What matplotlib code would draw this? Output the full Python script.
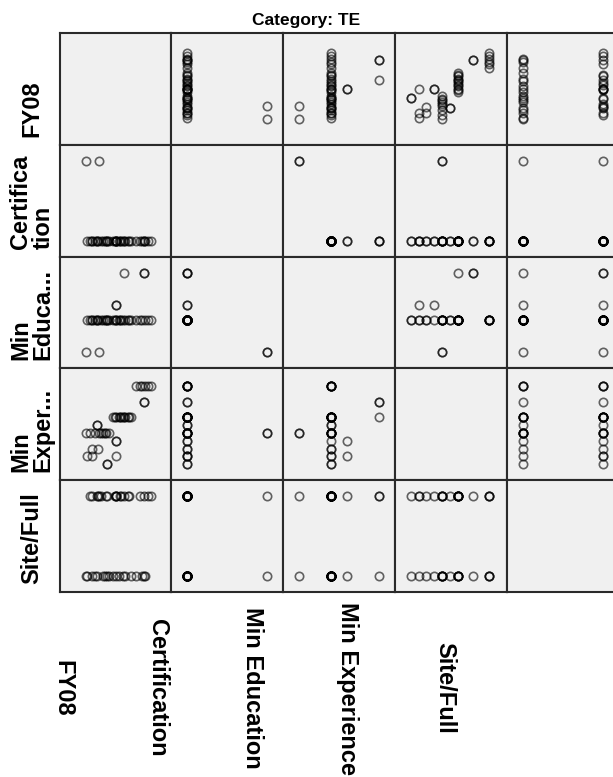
import matplotlib
matplotlib.use("Agg")
import matplotlib.pyplot as plt

plt.rcParams['font.family'] = ['Liberation Sans', 'DejaVu Sans']

# one entry per case
fy08 = [62500, 64500, 67000, 70000, 66500, 66500, 56500, 50500, 52000, 53500,
        55000, 57000, 58500, 60000, 54000, 42500, 42500, 37000, 43500, 39000,
        45500, 47000, 48500, 46500, 52000, 52000, 40000, 43000, 37500, 40000,
        52000, 47500, 47500, 51500, 56000, 59000, 41500, 44500, 65500, 68500]
certification = [0, 0, 0, 0, 0, 0, 0, 0, 0, 0,
                 0, 0, 0, 0, 0, 0, 0, 1, 1, 0,
                 0, 0, 0, 0, 0, 0, 0, 0, 0, 0,
                 0, 0, 0, 0, 0, 0, 0, 0, 0, 0]
min_education = [3, 3, 3, 3, 6, 6, 6, 3, 3, 3,
                 3, 3, 3, 3, 3, 3, 3, 1, 1, 3,
                 3, 3, 3, 3, 4, 3, 3, 3, 3, 3,
                 4, 3, 3, 3, 3, 3, 3, 3, 3, 3]
min_experience = [10, 10, 10, 10, 8, 8, 6, 6, 6, 6,
                  6, 6, 6, 6, 6, 5, 5, 4, 4, 4,
                  4, 4, 4, 4, 3, 3, 2, 2, 1, 1,
                  1, 0, 0, 6, 6, 6, 4, 4, 10, 10]
site_full = [0, 1, 0, 1, 0, 1, 1, 0, 1, 0,
             1, 0, 1, 0, 1, 0, 1, 0, 1, 1,
             0, 1, 0, 0, 0, 1, 0, 1, 0, 1,
             1, 0, 1, 1, 0, 1, 0, 1, 0, 1]

variables = [fy08, certification, min_education, min_experience, site_full]
row_labels = ['FY08', 'Certifica\ntion', 'Min\nEduca...', 'Min\nExper...', 'Site/Full']
col_labels = ['FY08', 'Certification', 'Min Education', 'Min Experience', 'Site/Full']
limits = [(24000, 79900), (-0.2, 1.2), (0, 7), (-2.05, 12.3), (-0.2, 1.2)]

W, H = 613, 777
fig = plt.figure(figsize=(W / 100, H / 100), dpi=100)

left, top, cell = 59.5, 33.0, 111.8
n = len(variables)

for i in range(n):
    for j in range(n):
        ax = fig.add_axes([(left + j * cell) / W, 1 - (top + (i + 1) * cell) / H,
                           cell / W, cell / H])
        ax.set_facecolor('#f0f0f0')
        if i != j:
            ax.plot(variables[j], variables[i], 'o', ms=6.0, mfc='none',
                    mec='black', mew=1.2, alpha=0.6)
        ax.set_xlim(limits[j])
        ax.set_ylim(limits[i])
        ax.set_xticks([])
        ax.set_yticks([])
        for s in ax.spines.values():
            s.set_linewidth(1.5)
            s.set_color('#2a2a2a')

fig.text(306 / W, 1 - 21 / H, 'Category: TE', ha='center', va='center',
         fontsize=12.5, fontweight='bold')

for i, lab in enumerate(row_labels):
    y = top + (i + 1) * cell - 8
    fig.text(32 / W, 1 - y / H, lab, rotation=90, rotation_mode='anchor',
             ha='left', va='center', ma='left', fontsize=17, fontweight='bold',
             linespacing=0.95)

# bottom labels sit at their own spacing, not under the columns
bottom_x = [63, 158, 253, 348, 445]
for x, lab in zip(bottom_x, col_labels):
    fig.text(x / W, 1 - 688 / H, lab, rotation=270, ha='center', va='center',
             fontsize=17, fontweight='bold')

fig.savefig('out.png', dpi=100)
